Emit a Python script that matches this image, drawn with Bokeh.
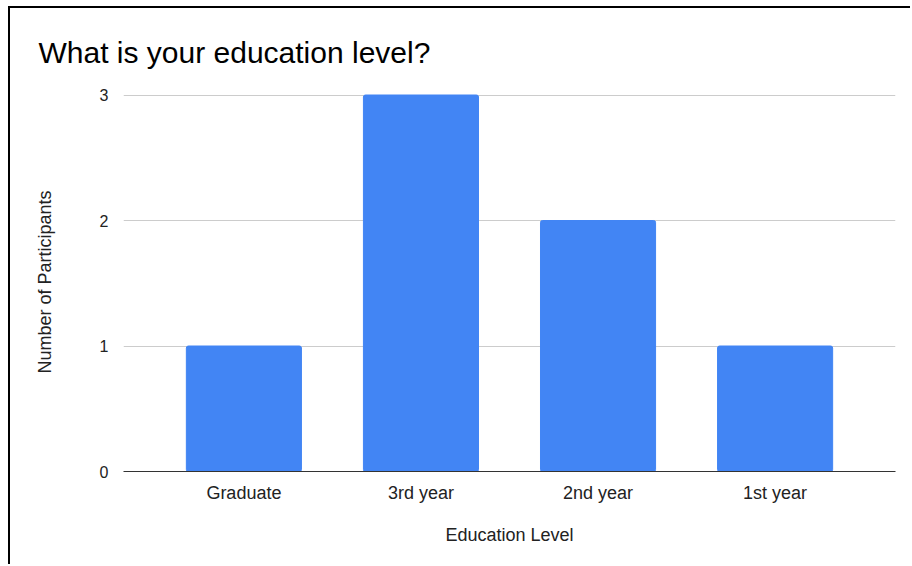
from bokeh.plotting import figure
from bokeh.models import FactorRange, Range1d, FixedTicker
from bokeh.embed import file_html
from bokeh.resources import INLINE

categories = ["Graduate", "3rd year", "2nd year", "1st year"]
participants = [1, 3, 2, 1]
y_ticks = [0, 1, 2, 3]

FONT = "Liberation Sans"

p = figure(
    width=902, height=558,
    x_range=FactorRange(*categories, range_padding=0.09, range_padding_units="percent"),
    y_range=Range1d(0, 3.02),
    output_backend="svg", toolbar_location=None,
    min_border_left=113, min_border_right=17, min_border_top=84, min_border_bottom=95,
    title="What is your education level?",
)
p.margin = (6, 0, 0, 8)
p.styles = {"border-left": "2px solid #000000", "border-top": "2px solid #000000"}

p.vbar(x=categories, top=participants, width=0.65, color="#4285F4", border_radius=2)

p.title.text_font = FONT
p.title.text_font_size = "30px"
p.title.text_font_style = "normal"
p.title.text_color = "#000000"
p.title.align = "left"
p.title.offset = -85
p.title.standoff = 47

p.outline_line_color = None
p.background_fill_color = "white"
p.border_fill_color = "white"

p.xgrid.grid_line_color = None
p.ygrid.grid_line_color = "#cccccc"
p.ygrid.ticker = FixedTicker(ticks=y_ticks)

p.yaxis.ticker = FixedTicker(ticks=y_ticks)
p.yaxis.axis_line_color = None
p.yaxis.major_tick_line_color = None
p.yaxis.minor_tick_line_color = None
p.yaxis.major_label_text_font = FONT
p.yaxis.major_label_text_font_size = "16px"
p.yaxis.major_label_text_color = "#222222"
p.yaxis.major_label_standoff = 9
p.yaxis.axis_label = "Number of Participants"
p.yaxis.axis_label_text_font = FONT
p.yaxis.axis_label_text_font_size = "18px"
p.yaxis.axis_label_text_font_style = "normal"
p.yaxis.axis_label_text_color = "#222222"
p.yaxis.axis_label_standoff = 42

p.xaxis.axis_line_color = "#333333"
p.xaxis.axis_line_width = 1
p.xaxis.major_tick_line_color = None
p.xaxis.minor_tick_line_color = None
p.xaxis.major_label_text_font = FONT
p.xaxis.major_label_text_font_size = "18px"
p.xaxis.major_label_text_color = "#222222"
p.xaxis.major_label_standoff = 5
p.xaxis.axis_label = "Education Level"
p.xaxis.axis_label_text_font = FONT
p.xaxis.axis_label_text_font_size = "18px"
p.xaxis.axis_label_text_font_style = "normal"
p.xaxis.axis_label_text_color = "#222222"
p.xaxis.axis_label_standoff = 19

open("out.html", "w").write(file_html(p, INLINE))
